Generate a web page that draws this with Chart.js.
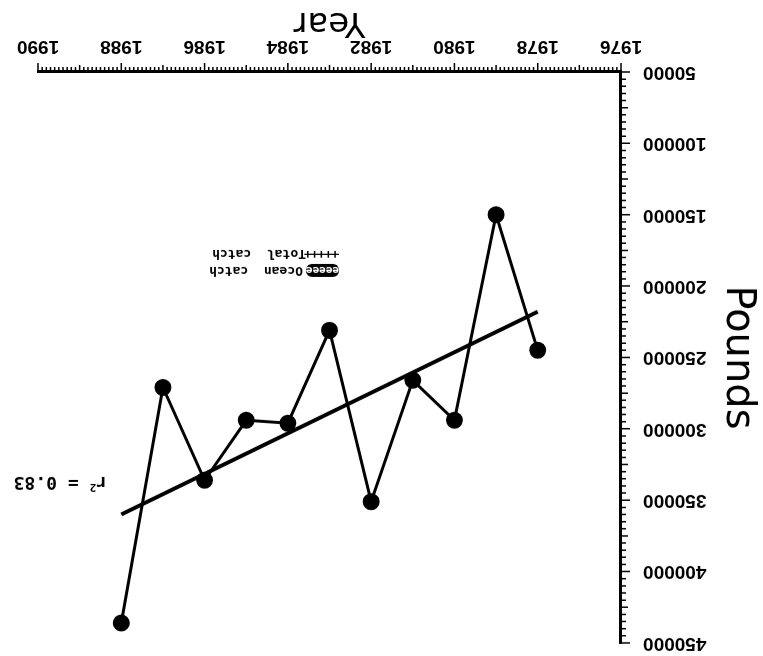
<!DOCTYPE html>
<html>
<head>
<meta charset="utf-8">
<script src="https://cdn.jsdelivr.net/npm/chart.js@4.4.1/dist/chart.umd.min.js"></script>
<style>
  body { margin: 0; background: #fff; }
  /* the whole figure is printed upside down, so the wrapper is turned 180 degrees */
  #wrap { position: relative; width: 763px; height: 656px; transform: rotate(180deg); }
  #legende { position: absolute; left: 424px; top: 376px; font: bold 13px "DejaVu Sans Mono", monospace; line-height: 17px; white-space: pre; color: #000; }
  .sym { display: inline-block; width: 33px; text-align: center; }
  .ocean { background: #000; color: #fff; border-radius: 6px; font-size: 11px; line-height: 13px; margin-right: 3px; }
  .total { text-decoration: line-through; letter-spacing: -1px; }
  #rdeux { position: absolute; left: 656px; top: 162px; font: bold 18px "DejaVu Sans Mono", monospace; color: #000; white-space: pre; }
  #rdeux sup { font-size: 11px; }
</style>
</head>
<body>
<div id="wrap">
  <canvas id="leGraphique" width="763" height="656"></canvas>
  <div id="legende"><span class="sym ocean">eeeee</span>Ocean  catch
<span class="sym total">+++++</span>Total  catch</div>
  <div id="rdeux">r<sup>2</sup> = 0.83</div>
</div>
<script>
const annees = [1978, 1979, 1980, 1981, 1982, 1983, 1984, 1985, 1986, 1987, 1988];   // années des points
const prises = [245000, 150000, 294000, 266000, 351000, 231000, 296000, 294000, 336000, 271000, 436000]; // livres pêchées
const tendanceAnnees = [1978, 1988];          // extrémités de la droite de régression
const tendanceValeurs = [218000, 360000];
const ticksX = [1976, 1978, 1980, 1982, 1984, 1986, 1988, 1990];
const ticksY = [50000, 100000, 150000, 200000, 250000, 300000, 350000, 400000, 450000];

const ctx = document.getElementById('leGraphique');

// petites graduations, dessinées avec les échelles du graphique
const petitesGraduations = {
  id: 'petitesGraduations',
  afterDraw(chart) {
    const c = chart.ctx;
    const sx = chart.scales.x, sy = chart.scales.y;
    c.save();
    c.strokeStyle = '#000';
    c.lineWidth = 1.5;
    c.beginPath();
    for (let i = 0; i <= 140; i++) {
      const px = sx.getPixelForValue(1976 + i / 10);
      const len = i % 20 === 0 ? 9 : (i % 10 === 0 ? 7 : 5);
      c.moveTo(px, sx.top);
      c.lineTo(px, sx.top + len);
    }
    for (let i = 0; i <= 80; i++) {
      const py = sy.getPixelForValue(50000 + i * 5000);
      const len = i % 10 === 0 ? 9 : (i % 5 === 0 ? 7 : 5);
      c.moveTo(sy.right, py);
      c.lineTo(sy.right - len, py);
    }
    c.stroke();
    c.restore();
  }
};

const data = {
  datasets: [{
      label: 'Ocean catch',
      data: annees.map((a, i) => ({x: a, y: prises[i]})),
      borderColor: '#000',
      backgroundColor: '#000',
      borderWidth: 3,
      pointRadius: 7,
      pointBackgroundColor: '#000',
      tension: 0
    }, {
      label: 'Tendance',
      data: tendanceAnnees.map((a, i) => ({x: a, y: tendanceValeurs[i]})),
      borderColor: '#000',
      borderWidth: 4,
      pointRadius: 0,
      tension: 0
    }]
};

const config = {
  type: 'line',
  data: data,
  plugins: [petitesGraduations],
  options: {
    responsive: false,
    animation: false,
    devicePixelRatio: 1,
    layout: { padding: { top: 13, right: 38, left: 0, bottom: 0 } },
    plugins: { legend: { display: false }, tooltip: { enabled: false } },
    scales: {
      x: {
        type: 'linear',
        min: 1976, max: 1990,
        afterBuildTicks: s => { s.ticks = ticksX.map(v => ({value: v})); },
        afterFit: s => { s.height = 72; s.paddingLeft = 0; s.paddingRight = 0; },
        grid: { display: false, drawTicks: false },
        border: { display: true, color: '#000', width: 3 },
        ticks: { color: '#000', padding: 14, font: { family: 'Liberation Sans', size: 19, weight: 'bold' }, callback: v => String(v), maxRotation: 0, autoSkip: false },
        title: { display: true, text: 'Year', color: '#000', font: { family: 'DejaVu Sans', size: 34, lineHeight: 1 }, padding: { top: 0, bottom: 5 } }
      },
      y: {
        min: 50000, max: 450000,
        afterBuildTicks: s => { s.ticks = ticksY.map(v => ({value: v})); },
        afterFit: s => { s.width = 142; s.paddingTop = 0; s.paddingBottom = 0; },
        grid: { display: false, drawTicks: false },
        border: { display: true, color: '#000', width: 3 },
        ticks: { color: '#000', padding: 22, font: { family: 'Liberation Sans', size: 19, weight: 'bold' }, callback: v => String(v) },
        title: { display: true, text: 'Pounds', color: '#000', font: { family: 'DejaVu Sans', size: 40, lineHeight: 1 }, padding: { top: 6, bottom: 0 } }
      }
    }
  }
};

const myChart = new Chart(ctx, config);
</script>
</body>
</html>
